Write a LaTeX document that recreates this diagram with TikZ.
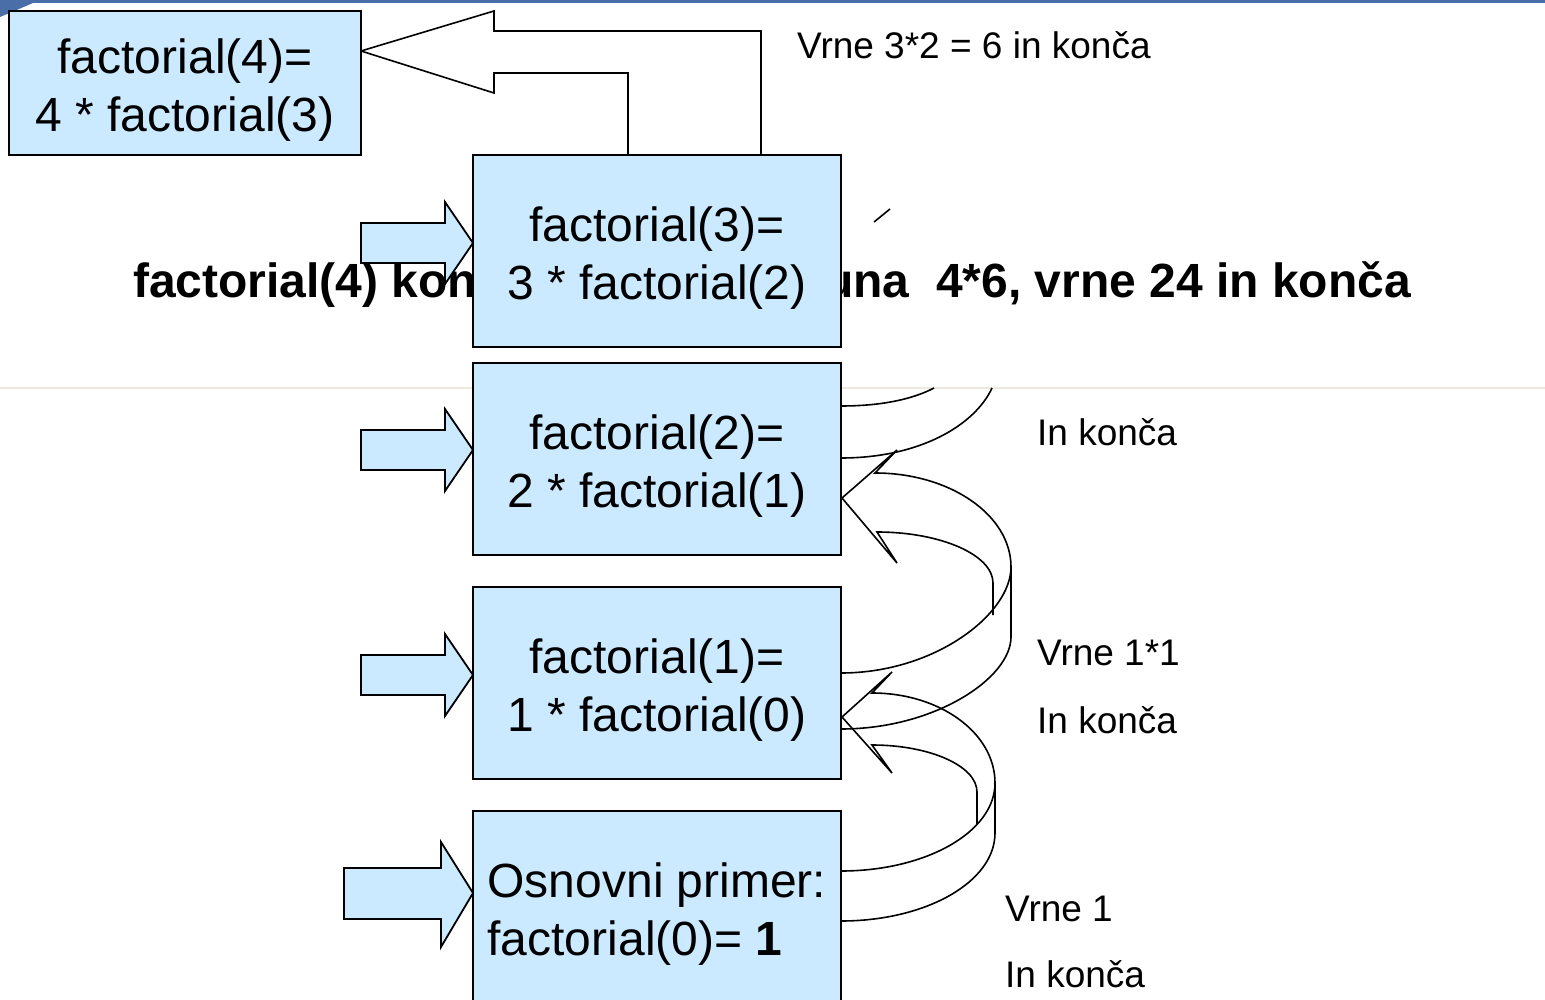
\documentclass[tikz,border=0pt]{standalone}
\usepackage{fontspec}
\setmainfont{Liberation Sans}
\usetikzlibrary{calc}

\definecolor{boxblue}{RGB}{204,234,255}
\definecolor{slideblue}{RGB}{74,110,168}
\definecolor{rulegrey}{RGB}{236,234,224}

% extra room above the first line of a box
\newcommand{\toproom}{\rule{0pt}{49pt}}

\tikzset{
  fbox/.style={draw, line width=2pt, fill=boxblue, inner sep=0pt, align=center,
    font=\fontsize{48}{58}\selectfont},
  inarrow/.style={draw, line width=1.8pt, fill=boxblue, line join=miter},
  retarrow/.style={draw, line width=1.6pt, line join=miter},
  curl/.style={draw, line width=1.6pt, line join=miter},
  note/.style={anchor=base west, inner sep=0pt, font=\fontsize{37}{44}\selectfont},
}

\begin{document}
\begin{tikzpicture}[x=1pt,y=-1pt]
\useasboundingbox (0,0) rectangle (1545,1000);

% slide header and rule
\fill[slideblue] (0,0) rectangle (1545,3);
\fill[slideblue] (0,0) -- (40,0) -- (12,12) -- (0,17) -- cycle;
\draw[rulegrey, line width=2.5pt] (0,388) -- (1545,388);

% heading, mostly behind the boxes
\node[anchor=base west, inner sep=0pt, font=\fontsize{48}{58}\selectfont\bfseries] (head)
  at (133,298) {factorial(4) konča, potem izračuna\ \ 4*6, vrne 24 in konča};

% return from factorial(3)
\draw[retarrow] (628,155) -- (628,73) -- (494,73) -- (494,93) -- (361,51)
  -- (494,11) -- (494,31) -- (761,31) -- (761,155);

% call boxes
\node[fbox, minimum width=352, minimum height=144] (f4) at (185,83) {\toproom factorial(4)=\\4 * factorial(3)};
\node[fbox, minimum width=368, minimum height=192] (f3) at (657,251) {\toproom factorial(3)=\\3 * factorial(2)};
\node[fbox, minimum width=368, minimum height=192] (f2) at (657,459) {\toproom factorial(2)=\\2 * factorial(1)};
\node[fbox, minimum width=368, minimum height=192] (f1) at (657,683) {\toproom factorial(1)=\\1 * factorial(0)};
\node[fbox, minimum width=368, minimum height=192, align=left] (f0) at (657,907)
  {\toproom Osnovni primer:\\factorial(0)= \textbf{1}};

% calls coming in
\foreach \y in {243,450,675}
  \draw[inarrow] (361,\y-20) -- (445,\y-20) -- (445,\y-41) -- (473,\y)
    -- (445,\y+41) -- (445,\y+20) -- (361,\y+20) -- cycle;
\draw[inarrow] (344,868) -- (441,868) -- (441,842) -- (473,893)
  -- (441,947) -- (441,919) -- (344,919) -- cycle;

% f0 -> f1
\draw[curl] (841,871) .. controls (926,871) and (995,832) .. (995,783)
  .. controls (995,733) and (940,693) .. (872,693)
  -- (892,672) -- (842,717) -- (892,773) -- (872,745)
  .. controls (930,745) and (977,766) .. (977,792) -- (977,824);
\draw[curl] (841,921) .. controls (926,921) and (995,882) .. (995,833) -- (995,783);

% f1 -> f2
\draw[curl] (841,673) .. controls (935,673) and (1011,614) .. (1011,567)
  .. controls (1011,515) and (950,473) .. (875,473)
  -- (897,450) -- (842,498) -- (897,563) -- (877,532)
  .. controls (941,532) and (993,555) .. (993,583) -- (993,615);
\draw[curl] (841,729) .. controls (935,729) and (1011,678) .. (1011,637) -- (1011,567);

% f2 -> f3, only the lower part shows
\draw[curl] (841,406) .. controls (885,406) and (915,398) .. (934,388);
\draw[curl] (841,458) .. controls (920,458) and (975,425) .. (992,388);
\draw[curl] (874,222) -- (890,209);

% what each call returns
\node[note] (r3) at (797,59) {Vrne 3*2 = 6 in konča};
\node[note] (e2) at (1037,445) {In konča};
\node[note] (r1) at (1037,665) {Vrne 1*1};
\node[note] (e1) at (1037,733) {In konča};
\node[note] (r0) at (1005,921) {Vrne 1};
\node[note] (e0) at (1005,987) {In konča};
\end{tikzpicture}
\end{document}
